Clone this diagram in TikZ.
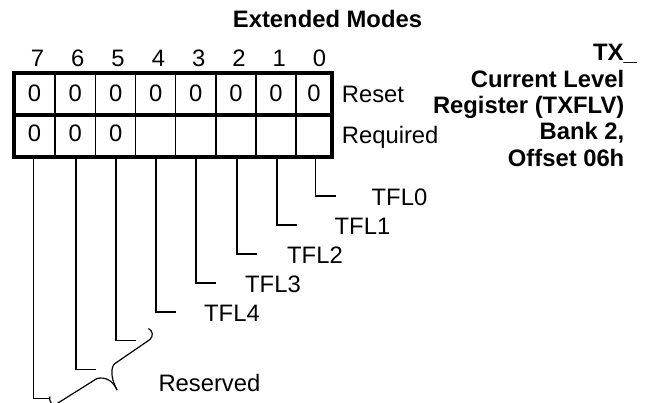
\documentclass[tikz,border=0pt]{standalone}
\usepackage{fontspec}
\setmainfont{Liberation Sans}
\begin{document}
\begin{tikzpicture}[x=1pt,y=-1pt,
  txt/.style={font=\fontsize{23.8}{28}\selectfont, inner sep=0pt},
  btxt/.style={font=\fontsize{23.8}{28}\selectfont\bfseries, inner sep=0pt},
  frame/.style={line width=3.8pt},
  cellline/.style={line width=1.3pt},
  leader/.style={line width=1.2pt}]
\useasboundingbox (0,0) rectangle (646,403);
% title
\node[btxt,anchor=base] (title) at (327.5,27.7) {Extended Modes};
% grid
\foreach \x in {55,95.7,135.7,175.7,216,256,296}
  \draw[cellline] (\x,73) -- (\x,157);
\draw[frame] (13.8,114.7) -- (332,114.7);
\draw[frame] (13.8,73) rectangle (332,157);
% bit numbers and cell contents
\foreach \b/\cx/\nx in {7/34.4/37.5,6/75.3/77.8,5/115.7/118.1,4/155.7/158.4,3/195.8/198.7,2/236/239,1/276/279.3,0/314/319.6} {
  \node[txt,anchor=base] (n\b) at (\nx,66.7) {\b};
  \node[txt,anchor=base] (r\b) at (\cx,101.5) {0};
}
\foreach \b/\cx in {7/34.4,6/75.3,5/115.7}
  \node[txt,anchor=base] (q\b) at (\cx,142) {0};
\node[txt,anchor=base west] (reset) at (341.7,102.3) {Reset};
\node[txt,anchor=base west] (req) at (341.7,144) {Required};
% right block
\node[btxt,anchor=base east] (t1) at (637,61) {TX\_};
\node[btxt,anchor=base east] (t2) at (624.5,87.5) {Current Level};
\node[btxt,anchor=base east] (t3) at (624.5,113.5) {Register (TXFLV)};
\node[btxt,anchor=base east] (t4) at (624.5,140) {Bank 2,};
\node[btxt,anchor=base east] (t5) at (624.5,166.5) {Offset 06h};
% leaders
\foreach \b/\lx/\ly/\ex in {7/33.5/398.3/50,6/76/369.3/96,5/116/340.7/136,4/156/312/176,3/196/283/216,2/237/254/257,1/277/225/297,0/315.5/196/335.5} {
  \coordinate (s\b) at (\lx,157);
  \coordinate (e\b) at (\ex,\ly);
  \draw[leader] (s\b) |- (e\b);
}
% labels
\node[txt,anchor=base west] (l0) at (371.5,205.5) {TFL0};
\node[txt,anchor=base west] (l1) at (334.5,234.5) {TFL1};
\node[txt,anchor=base west] (l2) at (287,263.5) {TFL2};
\node[txt,anchor=base west] (l3) at (245,292.5) {TFL3};
\node[txt,anchor=base west] (l4) at (204,321.5) {TFL4};
% brace
\draw[leader] (148.5,328.5) .. controls (153,331) and (153.5,336) .. (150,339.5)
  -- (115,363.5) .. controls (111,366.5) and (110,377) .. (117,390);
\draw[leader] (117,390) .. controls (113,381) and (106,376.5) .. (97,378.5)
  -- (54,405.5) .. controls (50,403) and (49,399) .. (50,396.5);
\node[txt,anchor=base west] (resv) at (158.3,391.7) {Reserved};
\end{tikzpicture}
\end{document}
